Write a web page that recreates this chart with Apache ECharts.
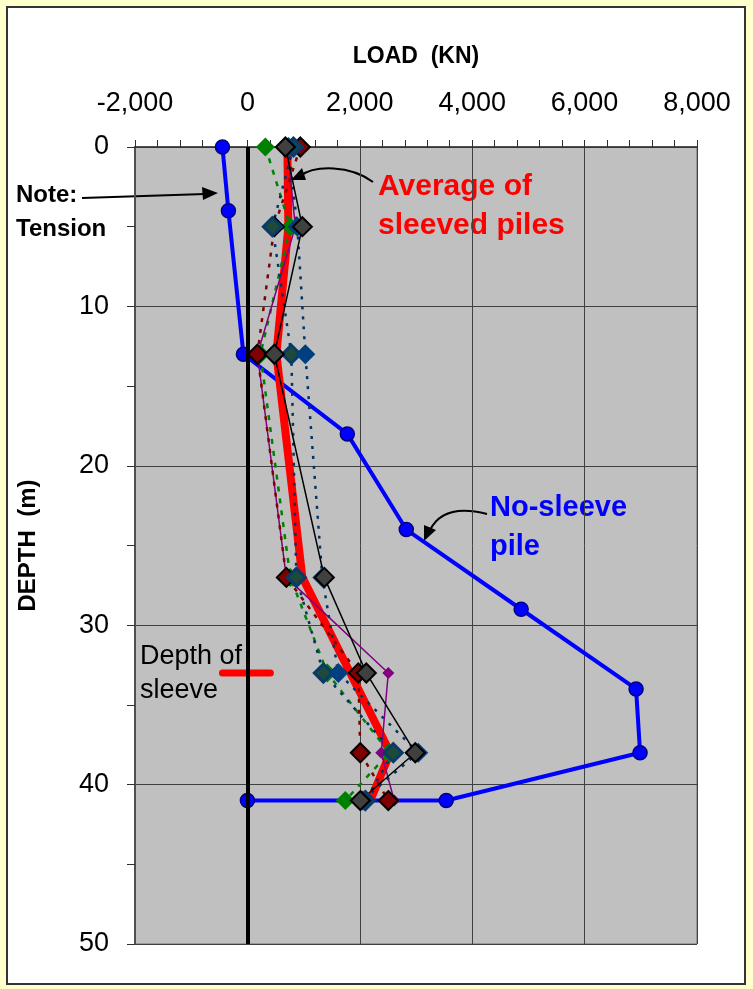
<!DOCTYPE html>
<html><head><meta charset="utf-8">
<script src="https://cdn.jsdelivr.net/npm/echarts@6/dist/echarts.min.js"></script>
<style>
html,body{margin:0;padding:0;background:#FFFFCC;width:753px;height:989px;overflow:hidden;}
#frame{position:absolute;left:6px;top:6px;width:736px;height:975px;background:#fff;border:2px solid #333;}
#chart{position:absolute;left:0;top:0;width:753px;height:989px;}
</style></head>
<body><div id="frame"></div><div id="chart"></div>
<script>
// ---- data ----
const depthsSleeved = [0, 5, 13, 27, 33, 38, 41];
const pileBlack  = [676, 978, 480, 1369, 2116, 2987, 2009];
const pilePurple = [711, 853, 178, 693, 2507, 2382, 2613];
const pileRed    = [942, 480, 178, 693, 1973, 2009, 2507];
const pileGreen  = [320, 764, 231, 764, 1422, 2524, 1742];
const pileBlue1  = [818, 444, 782, 871, 1351, 2596, 2098];
const pileBlue2  = [729, 889, 1031, 1333, 1618, 3040, 2044];
const averageSleeved = [711, 729, 516, 978, 1831, 2542, 2187];
const depthsNoSleeve = [0, 4, 13, 18, 24, 29, 34, 38, 41, 41];
const noSleevePile = [-444, -338, -71, 1778, 2827, 4871, 6916, 6987, 3538, 0];
const sleeveDepthKey = [-444, 409];
const sleeveDepth = 33;
const xTicks = [-2000, 0, 2000, 4000, 6000, 8000];
const yTicks = [0, 10, 20, 30, 40, 50];

const pair = (vals, depths) => vals.map((v, i) => [v, depths[i]]);
const FONT = '"Liberation Sans", Arial, sans-serif';

function pileSeries(name, vals, lineStyle, sym) {
  return {
    name, type: 'line', data: pair(vals, depthsSleeved),
    lineStyle, symbol: 'diamond', symbolSize: sym.size,
    itemStyle: { color: sym.color, borderColor: sym.border || sym.color, borderWidth: sym.bw || 0 },
    z: 4, animation: false
  };
}

const chart = echarts.init(document.getElementById('chart'));
chart.setOption({
  animation: false,
  grid: { left: 135, right: 56, top: 147, bottom: 45, show: true,
          backgroundColor: '#C0C0C0', borderColor: '#707070', borderWidth: 1 },
  xAxis: {
    type: 'value', position: 'top', min: xTicks[0], max: xTicks[xTicks.length - 1], interval: 2000,
    name: 'LOAD  (KN)', nameLocation: 'middle', nameGap: 79,
    nameTextStyle: { fontFamily: FONT, fontSize: 23, fontWeight: 'bold', color: '#000' },
    axisLine: { show: true, lineStyle: { color: '#303030', width: 1.5 } },
    axisTick: { show: true, length: 7, lineStyle: { color: '#303030' } },
    minorTick: { show: true, splitNumber: 5, length: 7, lineStyle: { color: '#303030' } },
    axisLabel: { fontFamily: FONT, fontSize: 27, color: '#000', margin: 30,
      formatter: v => v.toLocaleString('en-US') },
    splitLine: { show: true, lineStyle: { color: '#404040', width: 1 } }
  },
  yAxis: {
    type: 'value', inverse: true, min: yTicks[0], max: yTicks[yTicks.length - 1], interval: 10,
    name: 'DEPTH  (m)', nameLocation: 'middle', nameGap: 95,
    nameTextStyle: { fontFamily: FONT, fontSize: 24, fontWeight: 'bold', color: '#000' },
    axisLine: { show: true, onZero: false, lineStyle: { color: '#505050', width: 2 } },
    axisTick: { show: true, length: 8, lineStyle: { color: '#303030' } },
    minorTick: { show: true, splitNumber: 2, length: 8, lineStyle: { color: '#303030' } },
    axisLabel: { fontFamily: FONT, fontSize: 27, color: '#000', margin: 26 },
    splitLine: { show: true, lineStyle: { color: '#404040', width: 1 } }
  },
  series: [
    { name: 'zero', type: 'line', data: [], z: 1,
      markLine: { silent: true, symbol: 'none', label: { show: false },
        lineStyle: { color: '#000', width: 4, type: 'solid' }, data: [{ xAxis: 0 }] } },
    { name: 'Average of sleeved piles', type: 'line', data: pair(averageSleeved, depthsSleeved),
      symbol: 'none', lineStyle: { color: '#FF0000', width: 8 }, z: 3 },
    pileSeries('Pile green', pileGreen, { color: '#008000', width: 2.5, type: [5, 7] }, { size: 19, color: '#008000' }),
    pileSeries('Pile purple', pilePurple, { color: '#800080', width: 1.5 }, { size: 12, color: '#800080' }),
    pileSeries('Pile dark red', pileRed, { color: '#800000', width: 2.5, type: [4, 7] }, { size: 19, color: '#800000', border: '#000', bw: 2 }),
    pileSeries('Pile blue 1', pileBlue1, { color: '#003366', width: 2.5, type: [3, 7] }, { size: 18, color: '#1E4A3A', border: '#0A3A6A', bw: 3 }),
    pileSeries('Pile blue 2', pileBlue2, { color: '#003366', width: 2.5, type: [3, 7] }, { size: 20, color: '#003F7F' }),
    pileSeries('Pile black', pileBlack, { color: '#000', width: 1.5 }, { size: 19, color: '#404040', border: '#000', bw: 2 }),
    { name: 'No-sleeve pile', type: 'line', data: pair(noSleevePile, depthsNoSleeve),
      symbol: 'circle', symbolSize: 14, lineStyle: { color: '#0000FF', width: 4 },
      itemStyle: { color: '#0000FF', borderColor: '#000080', borderWidth: 1.5 }, z: 2 },
    { name: 'Depth of sleeve', type: 'line', data: sleeveDepthKey.map(v => [v, sleeveDepth]),
      symbol: 'none', lineStyle: { color: '#FF0000', width: 7, cap: 'round' }, z: 3 }
  ],
  graphic: [
    { type: 'text', left: 16, top: 183, style: { text: 'Note:', font: 'bold 24px ' + FONT, fill: '#000' } },
    { type: 'text', left: 16, top: 217, style: { text: 'Tension', font: 'bold 24px ' + FONT, fill: '#000' } },
    { type: 'line', shape: { x1: 82, y1: 198, x2: 205, y2: 194 }, style: { stroke: '#000', lineWidth: 2 } },
    { type: 'polygon', shape: { points: [[218, 193], [202, 187], [203, 200]] }, style: { fill: '#000' } },
    { type: 'text', left: 378, top: 172, style: { text: 'Average of', font: 'bold 30px ' + FONT, fill: '#FF0000' } },
    { type: 'text', left: 378, top: 211, style: { text: 'sleeved piles', font: 'bold 30px ' + FONT, fill: '#FF0000' } },
    { type: 'bezierCurve', shape: { x1: 373, y1: 182, cpx1: 350, cpy1: 165, cpx2: 315, cpy2: 165, x2: 300, y2: 176 },
      style: { stroke: '#000', lineWidth: 2, fill: 'none' } },
    { type: 'polygon', shape: { points: [[291, 180], [302, 168], [306, 180]] }, style: { fill: '#000' } },
    { type: 'text', left: 490, top: 493, style: { text: 'No-sleeve', font: 'bold 29px ' + FONT, fill: '#0000FF' } },
    { type: 'text', left: 490, top: 532, style: { text: 'pile', font: 'bold 29px ' + FONT, fill: '#0000FF' } },
    { type: 'bezierCurve', shape: { x1: 487, y1: 514, cpx1: 460, cpy1: 507, cpx2: 440, cpy2: 510, x2: 430, y2: 530 },
      style: { stroke: '#000', lineWidth: 2, fill: 'none' } },
    { type: 'polygon', shape: { points: [[424, 541], [424, 525], [436, 530]] }, style: { fill: '#000' } },
    { type: 'text', left: 140, top: 643, style: { text: 'Depth of', font: '27px ' + FONT, fill: '#000' } },
    { type: 'text', left: 140, top: 677, style: { text: 'sleeve', font: '27px ' + FONT, fill: '#000' } }
  ]
});
</script></body></html>
